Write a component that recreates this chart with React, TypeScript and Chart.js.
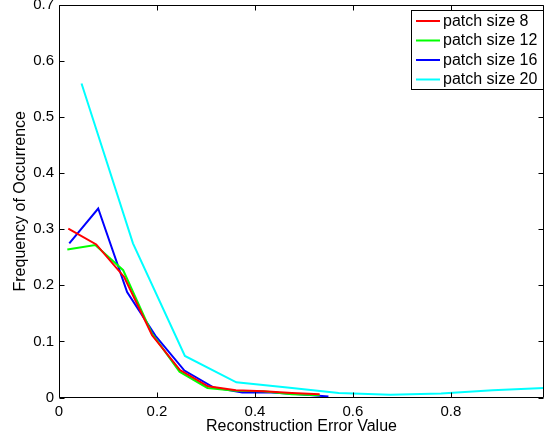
import { useEffect, useRef } from "react";
import { Chart, registerables } from "chart.js";

Chart.register(...registerables);

const seriesLabels = ["patch size 8", "patch size 12", "patch size 16", "patch size 20"];
const seriesColors = ["#ff0000", "#00ff00", "#0000ff", "#00ffff"];

const xSize8 = [0.019, 0.076, 0.133, 0.19, 0.247, 0.304, 0.361, 0.418, 0.475, 0.532];
const ySize8 = [0.301, 0.273, 0.215, 0.111, 0.049, 0.02, 0.013, 0.011, 0.008, 0.006];

const xSize12 = [0.017, 0.074, 0.131, 0.189, 0.246, 0.303, 0.36, 0.417, 0.475, 0.532];
const ySize12 = [0.264, 0.272, 0.227, 0.115, 0.046, 0.017, 0.012, 0.011, 0.006, 0.004];

const xSize16 = [0.021, 0.08, 0.139, 0.197, 0.256, 0.315, 0.374, 0.433, 0.491, 0.55];
const ySize16 = [0.275, 0.337, 0.188, 0.11, 0.048, 0.018, 0.009, 0.009, 0.006, 0.002];

const xSize20 = [0.046, 0.151, 0.257, 0.362, 0.466, 0.571, 0.676, 0.78, 0.885, 0.99];
const ySize20 = [0.56, 0.275, 0.074, 0.027, 0.018, 0.008, 0.005, 0.007, 0.013, 0.017];

const xTickValues = [0, 0.2, 0.4, 0.6, 0.8];
const yTickValues = [0, 0.1, 0.2, 0.3, 0.4, 0.5, 0.6, 0.7];

const FONT = "'Liberation Sans', Arial, Helvetica, sans-serif";

const fmt = (v: number) => String(Number(v.toFixed(2)));

const framePlugin = {
  id: "matlabFrame",
  afterDatasetsDraw(chart: any) {
    const { ctx, chartArea, scales } = chart;
    const { left, right, top, bottom } = chartArea;
    const tl = 5;
    ctx.save();
    ctx.strokeStyle = "#000";
    ctx.lineWidth = 1;
    ctx.beginPath();
    const L = Math.round(left) + 0.5;
    const R = Math.round(right) - 0.5;
    const T = Math.round(top) + 0.5;
    const B = Math.round(bottom) - 0.5;
    ctx.rect(L, T, R - L, B - T);
    for (const v of xTickValues) {
      const px = Math.round(scales.x.getPixelForValue(v)) + 0.5;
      ctx.moveTo(px, B);
      ctx.lineTo(px, B - tl);
      ctx.moveTo(px, T);
      ctx.lineTo(px, T + tl);
    }
    for (const v of yTickValues) {
      const py = Math.round(scales.y.getPixelForValue(v)) + 0.5;
      ctx.moveTo(L, py);
      ctx.lineTo(L + tl, py);
      ctx.moveTo(R, py);
      ctx.lineTo(R - tl, py);
    }
    ctx.stroke();

    // legend
    const bx = 411.5, by = 10.5, bw = 132, bh = 79;
    ctx.fillStyle = "#fff";
    ctx.fillRect(bx, by, bw, bh);
    ctx.strokeRect(bx, by, bw, bh);
    ctx.font = `16px ${FONT}`;
    ctx.textBaseline = "middle";
    ctx.textAlign = "left";
    chart.data.datasets.forEach((ds: any, i: number) => {
      const ry = 21 + i * 19.5;
      ctx.strokeStyle = ds.borderColor;
      ctx.lineWidth = 2;
      ctx.beginPath();
      ctx.moveTo(416, ry);
      ctx.lineTo(440, ry);
      ctx.stroke();
      ctx.fillStyle = "#000";
      ctx.fillText(ds.label, 443, ry + 0.5);
    });
    ctx.restore();
  },
};

export default function App() {
  const ref = useRef<HTMLCanvasElement | null>(null);

  useEffect(() => {
    document.body.style.margin = "0";
    const canvas = ref.current;
    if (!canvas) return;
    const xs = [xSize8, xSize12, xSize16, xSize20];
    const ys = [ySize8, ySize12, ySize16, ySize20];
    const chart = new Chart(canvas, {
      type: "line",
      data: {
        datasets: seriesLabels.map((label, i) => ({
          label,
          data: xs[i].map((x, j) => ({ x, y: ys[i][j] })),
          borderColor: seriesColors[i],
          backgroundColor: seriesColors[i],
          borderWidth: 2,
          pointRadius: 0,
          tension: 0,
          fill: false,
        })),
      },
      options: {
        animation: false,
        responsive: false,
        devicePixelRatio: 1,
        layout: { autoPadding: false, padding: { top: 5, right: 1, left: 0, bottom: 0 } },
        plugins: {
          legend: { display: false },
          tooltip: { enabled: false },
        },
        scales: {
          x: {
            type: "linear",
            min: 0,
            max: 0.99,
            grid: { display: false, drawTicks: false },
            border: { display: false },
            afterBuildTicks: (scale: any) => {
              scale.ticks = xTickValues.map((v) => ({ value: v }));
            },
            afterFit: (scale: any) => {
              scale.height = 44.5;
              scale.paddingLeft = 0;
              scale.paddingRight = 0;
            },
            ticks: {
              padding: 5,
              color: "#000",
              font: { family: FONT, size: 15 },
              maxRotation: 0,
              callback: (v: any) => fmt(Number(v)),
            },
            title: {
              display: true,
              text: "Reconstruction Error Value",
              color: "#000",
              font: { family: FONT, size: 16 },
              padding: { top: 0, bottom: 6 },
            },
          },
          y: {
            type: "linear",
            min: 0,
            max: 0.7,
            grid: { display: false, drawTicks: false },
            border: { display: false },
            afterBuildTicks: (scale: any) => {
              scale.ticks = yTickValues.map((v) => ({ value: v }));
            },
            afterFit: (scale: any) => {
              scale.width = 59;
              scale.paddingTop = 0;
              scale.paddingBottom = 0;
            },
            ticks: {
              padding: 5,
              color: "#000",
              font: { family: FONT, size: 15 },
              callback: (v: any) => fmt(Number(v)),
            },
            title: {
              display: true,
              text: "Frequency of Occurrence",
              color: "#000",
              font: { family: FONT, size: 16 },
              padding: { top: 11, bottom: 0 },
            },
          },
        },
      },
      plugins: [framePlugin],
    } as any);
    return () => chart.destroy();
  }, []);

  return <canvas ref={ref} width={545} height={442} style={{ display: "block" }} />;
}
